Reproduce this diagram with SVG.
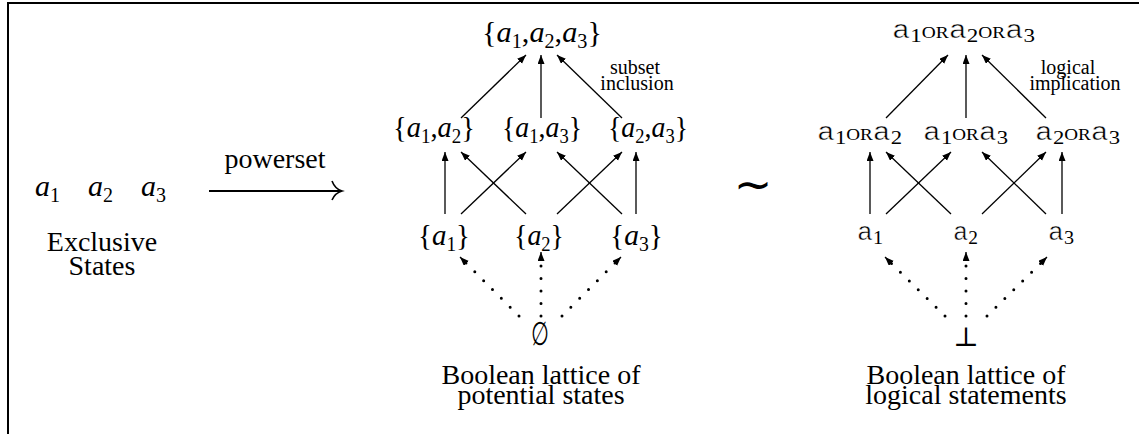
<svg xmlns="http://www.w3.org/2000/svg" width="1139" height="434" viewBox="0 0 1139 434">
<style>
.lbl{font-family:"Liberation Serif","Times New Roman",serif;font-size:28px;fill:#000;text-anchor:middle}
.small{font-family:"Liberation Serif","Times New Roman",serif;font-size:20px;fill:#000;text-anchor:middle}
.set{font-family:"Liberation Serif","Times New Roman",serif;font-size:30px;fill:#000}
.it{font-style:italic}
.sub{font-size:20px;font-style:normal}
.tt{font-family:"Liberation Mono","DejaVu Sans Mono",monospace;font-size:25px;fill:#000;stroke:#fff;stroke-width:0.5}
.tsub{font-family:"Liberation Serif","Times New Roman",serif;font-size:19px;stroke:none}
.sc{font-family:"Liberation Serif","Times New Roman",serif;font-size:16px;stroke:none}
.edge{stroke:#000;stroke-width:1.3;fill:none}
.dot{stroke:#000;stroke-width:3;fill:none;stroke-linecap:round;stroke-dasharray:0 12.5}
.frame{stroke:#000;stroke-width:2;fill:none}
</style>
<defs>
<marker id="ah" markerUnits="userSpaceOnUse" markerWidth="10" markerHeight="8" refX="9" refY="3.5" orient="auto">
<path d="M0,0 L9,3.5 L0,7 z" fill="#000"/>
</marker>
</defs>
<rect x="0" y="0" width="1139" height="434" fill="#fff"/>
<path class="frame" d="M8,434 L8,3 L1139,3"/>

<g id="exclusive-states">
<text class="set it" x="35" y="196">a<tspan class="sub" dy="6">1</tspan></text>
<text class="set it" x="88" y="196">a<tspan class="sub" dy="6">2</tspan></text>
<text class="set it" x="141" y="196">a<tspan class="sub" dy="6">3</tspan></text>
<text class="lbl" x="102" y="251">Exclusive</text>
<text class="lbl" x="102" y="275">States</text>
</g>

<g id="powerset-arrow">
<text class="lbl" x="275" y="168">powerset</text>
<path d="M209,191 L341,191" stroke="#000" stroke-width="2" fill="none"/>
<path d="M332,181 Q335,189 342,191 Q335,193 332,200" stroke="#000" stroke-width="1.6" fill="none"/>
</g>

<g id="sim">
<text x="753" y="200" style="font-family:'DejaVu Sans',sans-serif;font-size:46px;text-anchor:middle">∼</text>
</g>

<g id="s123"><text class="set" x="482" y="42" textLength="120" lengthAdjust="spacingAndGlyphs">{<tspan class="it">a</tspan><tspan class="sub" dy="6">1</tspan><tspan dy="-6">,</tspan><tspan class="it">a</tspan><tspan class="sub" dy="6">2</tspan><tspan dy="-6">,</tspan><tspan class="it">a</tspan><tspan class="sub" dy="6">3</tspan><tspan dy="-6">}</tspan></text></g>
<g id="s12"><text class="set" x="393" y="137" textLength="82" lengthAdjust="spacingAndGlyphs">{<tspan class="it">a</tspan><tspan class="sub" dy="6">1</tspan><tspan dy="-6">,</tspan><tspan class="it">a</tspan><tspan class="sub" dy="6">2</tspan><tspan dy="-6">}</tspan></text></g>
<g id="s13"><text class="set" x="502" y="137" textLength="80" lengthAdjust="spacingAndGlyphs">{<tspan class="it">a</tspan><tspan class="sub" dy="6">1</tspan><tspan dy="-6">,</tspan><tspan class="it">a</tspan><tspan class="sub" dy="6">3</tspan><tspan dy="-6">}</tspan></text></g>
<g id="s23"><text class="set" x="608" y="137" textLength="80" lengthAdjust="spacingAndGlyphs">{<tspan class="it">a</tspan><tspan class="sub" dy="6">2</tspan><tspan dy="-6">,</tspan><tspan class="it">a</tspan><tspan class="sub" dy="6">3</tspan><tspan dy="-6">}</tspan></text></g>
<g id="s1"><text class="set" x="418" y="245" textLength="52" lengthAdjust="spacingAndGlyphs">{<tspan class="it">a</tspan><tspan class="sub" dy="6">1</tspan><tspan dy="-6">}</tspan></text></g>
<g id="s2"><text class="set" x="514" y="245" textLength="50" lengthAdjust="spacingAndGlyphs">{<tspan class="it">a</tspan><tspan class="sub" dy="6">2</tspan><tspan dy="-6">}</tspan></text></g>
<g id="s3"><text class="set" x="610" y="245" textLength="53" lengthAdjust="spacingAndGlyphs">{<tspan class="it">a</tspan><tspan class="sub" dy="6">3</tspan><tspan dy="-6">}</tspan></text></g>
<g id="empty"><text transform="translate(540,345) scale(0.62,1)" x="0" y="0" style="font-family:'DejaVu Sans',sans-serif;font-size:33px;text-anchor:middle">∅</text></g>
<g id="caption-potential">
<text class="lbl" x="541" y="384">Boolean lattice of</text>
<text class="lbl" x="541" y="404">potential states</text>
</g>
<g id="label-subset">
<text class="small" x="635" y="74">subset</text>
<text class="small" x="637" y="90">inclusion</text>
</g>

<g id="l123"><text class="tt" x="892" y="38" textLength="143" lengthAdjust="spacingAndGlyphs">a<tspan class="tsub" dy="4">1</tspan><tspan class="sc" dy="-4">OR</tspan>a<tspan class="tsub" dy="4">2</tspan><tspan class="sc" dy="-4">OR</tspan>a<tspan class="tsub" dy="4">3</tspan></text></g>
<g id="l12"><text class="tt" x="817" y="140" textLength="85" lengthAdjust="spacingAndGlyphs">a<tspan class="tsub" dy="4">1</tspan><tspan class="sc" dy="-4">OR</tspan>a<tspan class="tsub" dy="4">2</tspan></text></g>
<g id="l13"><text class="tt" x="923" y="140" textLength="85" lengthAdjust="spacingAndGlyphs">a<tspan class="tsub" dy="4">1</tspan><tspan class="sc" dy="-4">OR</tspan>a<tspan class="tsub" dy="4">3</tspan></text></g>
<g id="l23"><text class="tt" x="1035" y="140" textLength="85" lengthAdjust="spacingAndGlyphs">a<tspan class="tsub" dy="4">2</tspan><tspan class="sc" dy="-4">OR</tspan>a<tspan class="tsub" dy="4">3</tspan></text></g>
<g id="l1"><text class="tt" x="857" y="240" textLength="26" lengthAdjust="spacingAndGlyphs">a<tspan class="tsub" dy="4">1</tspan></text></g>
<g id="l2"><text class="tt" x="953" y="240" textLength="25" lengthAdjust="spacingAndGlyphs">a<tspan class="tsub" dy="4">2</tspan></text></g>
<g id="l3"><text class="tt" x="1048" y="240" textLength="26" lengthAdjust="spacingAndGlyphs">a<tspan class="tsub" dy="4">3</tspan></text></g>
<g id="bottom"><text x="966" y="346" style="font-family:'DejaVu Serif',serif;font-size:27px;text-anchor:middle">⊥</text></g>
<g id="caption-logical">
<text class="lbl" x="966" y="384">Boolean lattice of</text>
<text class="lbl" x="966" y="404">logical statements</text>
</g>
<g id="label-implication">
<text class="small" x="1068" y="74">logical</text>
<text class="small" x="1075" y="90">implication</text>
</g>

<g id="connectors">
<line class="edge" x1="461" y1="118" x2="526" y2="55" marker-end="url(#ah)"/>
<line class="edge" x1="541" y1="118" x2="541" y2="55" marker-end="url(#ah)"/>
<line class="edge" x1="622" y1="118" x2="557" y2="55" marker-end="url(#ah)"/>
<line class="edge" x1="445" y1="214" x2="445" y2="152" marker-end="url(#ah)"/>
<line class="edge" x1="461" y1="214" x2="526" y2="152" marker-end="url(#ah)"/>
<line class="edge" x1="526" y1="214" x2="461" y2="152" marker-end="url(#ah)"/>
<line class="edge" x1="557" y1="214" x2="622" y2="152" marker-end="url(#ah)"/>
<line class="edge" x1="622" y1="214" x2="557" y2="152" marker-end="url(#ah)"/>
<line class="edge" x1="636" y1="214" x2="636" y2="152" marker-end="url(#ah)"/>
<line class="dot" x1="519" y1="316" x2="464" y2="261"/>
<line class="dot" x1="541" y1="316" x2="541" y2="260"/>
<line class="dot" x1="562" y1="316" x2="617" y2="261"/>
<line class="edge" x1="466" y1="263" x2="460" y2="257" marker-end="url(#ah)" stroke-width="1"/>
<line class="edge" x1="541" y1="259" x2="541" y2="252" marker-end="url(#ah)" stroke-width="1"/>
<line class="edge" x1="615" y1="263" x2="621" y2="257" marker-end="url(#ah)" stroke-width="1"/>
<line class="edge" x1="886" y1="118" x2="948" y2="55" marker-end="url(#ah)"/>
<line class="edge" x1="966" y1="118" x2="966" y2="55" marker-end="url(#ah)"/>
<line class="edge" x1="1046" y1="118" x2="982" y2="55" marker-end="url(#ah)"/>
<line class="edge" x1="870" y1="214" x2="870" y2="152" marker-end="url(#ah)"/>
<line class="edge" x1="886" y1="214" x2="951" y2="152" marker-end="url(#ah)"/>
<line class="edge" x1="951" y1="214" x2="886" y2="152" marker-end="url(#ah)"/>
<line class="edge" x1="982" y1="214" x2="1046" y2="152" marker-end="url(#ah)"/>
<line class="edge" x1="1046" y1="214" x2="982" y2="152" marker-end="url(#ah)"/>
<line class="edge" x1="1062" y1="214" x2="1062" y2="152" marker-end="url(#ah)"/>
<line class="dot" x1="945" y1="316" x2="889" y2="261"/>
<line class="dot" x1="966" y1="316" x2="966" y2="260"/>
<line class="dot" x1="987" y1="316" x2="1043" y2="261"/>
<line class="edge" x1="891" y1="263" x2="885" y2="257" marker-end="url(#ah)" stroke-width="1"/>
<line class="edge" x1="966" y1="259" x2="966" y2="252" marker-end="url(#ah)" stroke-width="1"/>
<line class="edge" x1="1041" y1="263" x2="1047" y2="257" marker-end="url(#ah)" stroke-width="1"/>
</g>
</svg>
